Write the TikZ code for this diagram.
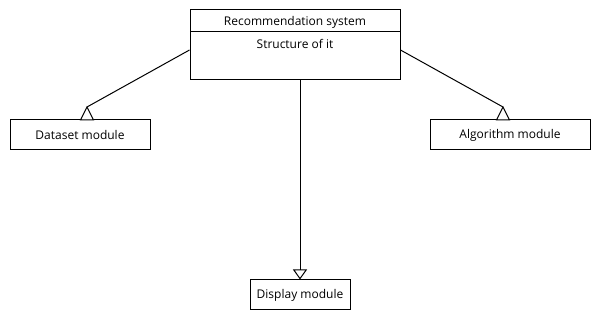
\documentclass[tikz,border=0pt]{standalone}
\usepackage{fontspec}
\setmainfont{Open Sans}
\usetikzlibrary{arrows.meta}

\begin{document}
\begin{tikzpicture}[x=1pt,y=-1pt,line width=1pt,every node/.style={draw,rectangle,inner sep=0pt,font=\fontsize{12}{14}\selectfont},
		txt/.style={draw=none},
		tri/.style={draw,fill=white}]
		\useasboundingbox (0,0) rectangle (600,320);

		% the system class with its two compartments
		\node[minimum width=210pt,minimum height=70pt] (sys) at (295,45) {};
		\node[txt] (sysname) at (295,22) {Recommendation system};
		\node[txt] (sysbody) at (295,44) {Structure of it};
		\draw (190,32) -- (400,32);

		\node[minimum width=140pt,minimum height=30pt] (data) at (80,135)  {Dataset module};
		\node[minimum width=160pt,minimum height=30pt] (algo) at (510,135) {Algorithm module};
		\node[minimum width=100pt,minimum height=30pt] (disp) at (300,295) {Display module};

		\coordinate (dataTip) at (87,107);
		\coordinate (algoTip) at (503,107);

		\draw ([yshift=-5pt]sys.west) -- (dataTip);
		\draw ([yshift=-5pt]sys.east) -- (algoTip);
		\draw[-{Triangle[open,width=14pt,length=10pt]}] (sys.south -| disp.north) -- (disp.north);

		\foreach \tip in {dataTip,algoTip}
			\draw[tri] (\tip) -- ++(-6.5,13) -- ++(13,0) -- cycle;
	\end{tikzpicture}
\end{document}
